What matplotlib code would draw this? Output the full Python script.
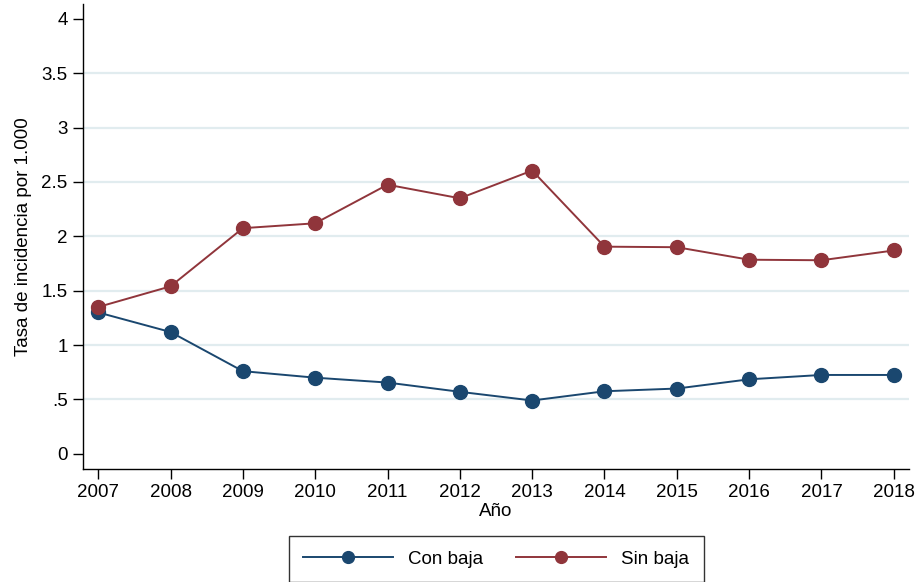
import matplotlib
matplotlib.use("Agg")
import matplotlib.pyplot as plt

plt.rcParams['font.family'] = ['Liberation Sans', 'DejaVu Sans']

years = [2007, 2008, 2009, 2010, 2011, 2012, 2013, 2014, 2015, 2016, 2017, 2018]
con_baja = [1.30, 1.12, 0.76, 0.70, 0.655, 0.57, 0.49, 0.575, 0.60, 0.685, 0.725, 0.725]
sin_baja = [1.35, 1.54, 2.075, 2.12, 2.475, 2.35, 2.605, 1.905, 1.90, 1.785, 1.78, 1.87]
yticks = [0, 0.5, 1, 1.5, 2, 2.5, 3, 3.5, 4]
ytick_labels = ["0", ".5", "1", "1.5", "2", "2.5", "3", "3.5", "4"]
grid_vals = [0.5, 1, 1.5, 2, 2.5, 3, 3.5]

blue = "#1a476f"
red = "#90353b"
fs = 13.5

fig = plt.figure(figsize=(9.19, 5.82), dpi=100)
ax = fig.add_axes([83/919, 1-469/582, 826/919, 465/582])

for g in grid_vals:
    ax.axhline(g, color="#e1ecef", lw=1.6, zorder=0)

ax.plot(years, con_baja, color=blue, lw=1.4, marker='o', ms=10, label="Con baja", zorder=3)
ax.plot(years, sin_baja, color=red, lw=1.4, marker='o', ms=10, label="Sin baja", zorder=3)

ax.set_xlim(2006.79, 2018.21)
ax.set_ylim(-0.14, 4.137)
ax.set_xticks(years)
ax.set_xticklabels([str(y) for y in years], fontsize=fs)
ax.set_yticks(yticks)
ax.set_yticklabels(ytick_labels, fontsize=fs)
ax.tick_params(axis='both', direction='out', length=7, width=1, color='black', pad=4)
for s in ['top', 'right']:
    ax.spines[s].set_visible(False)
for s in ['left', 'bottom']:
    ax.spines[s].set_linewidth(1)
ax.set_xlabel("Año", fontsize=fs, labelpad=1)
ax.set_ylabel("Tasa de incidencia por 1.000", fontsize=fs, labelpad=7)

leg = fig.legend(loc='center', bbox_to_anchor=(496/919, 1-559/582), ncol=2, fontsize=fs,
                 frameon=True, fancybox=False, edgecolor='black', handlelength=4.8,
                 handletextpad=0.8, columnspacing=1.8, borderpad=0.75, markerscale=0.85)
leg.get_frame().set_linewidth(1)

fig.savefig("out.png", dpi=100)
